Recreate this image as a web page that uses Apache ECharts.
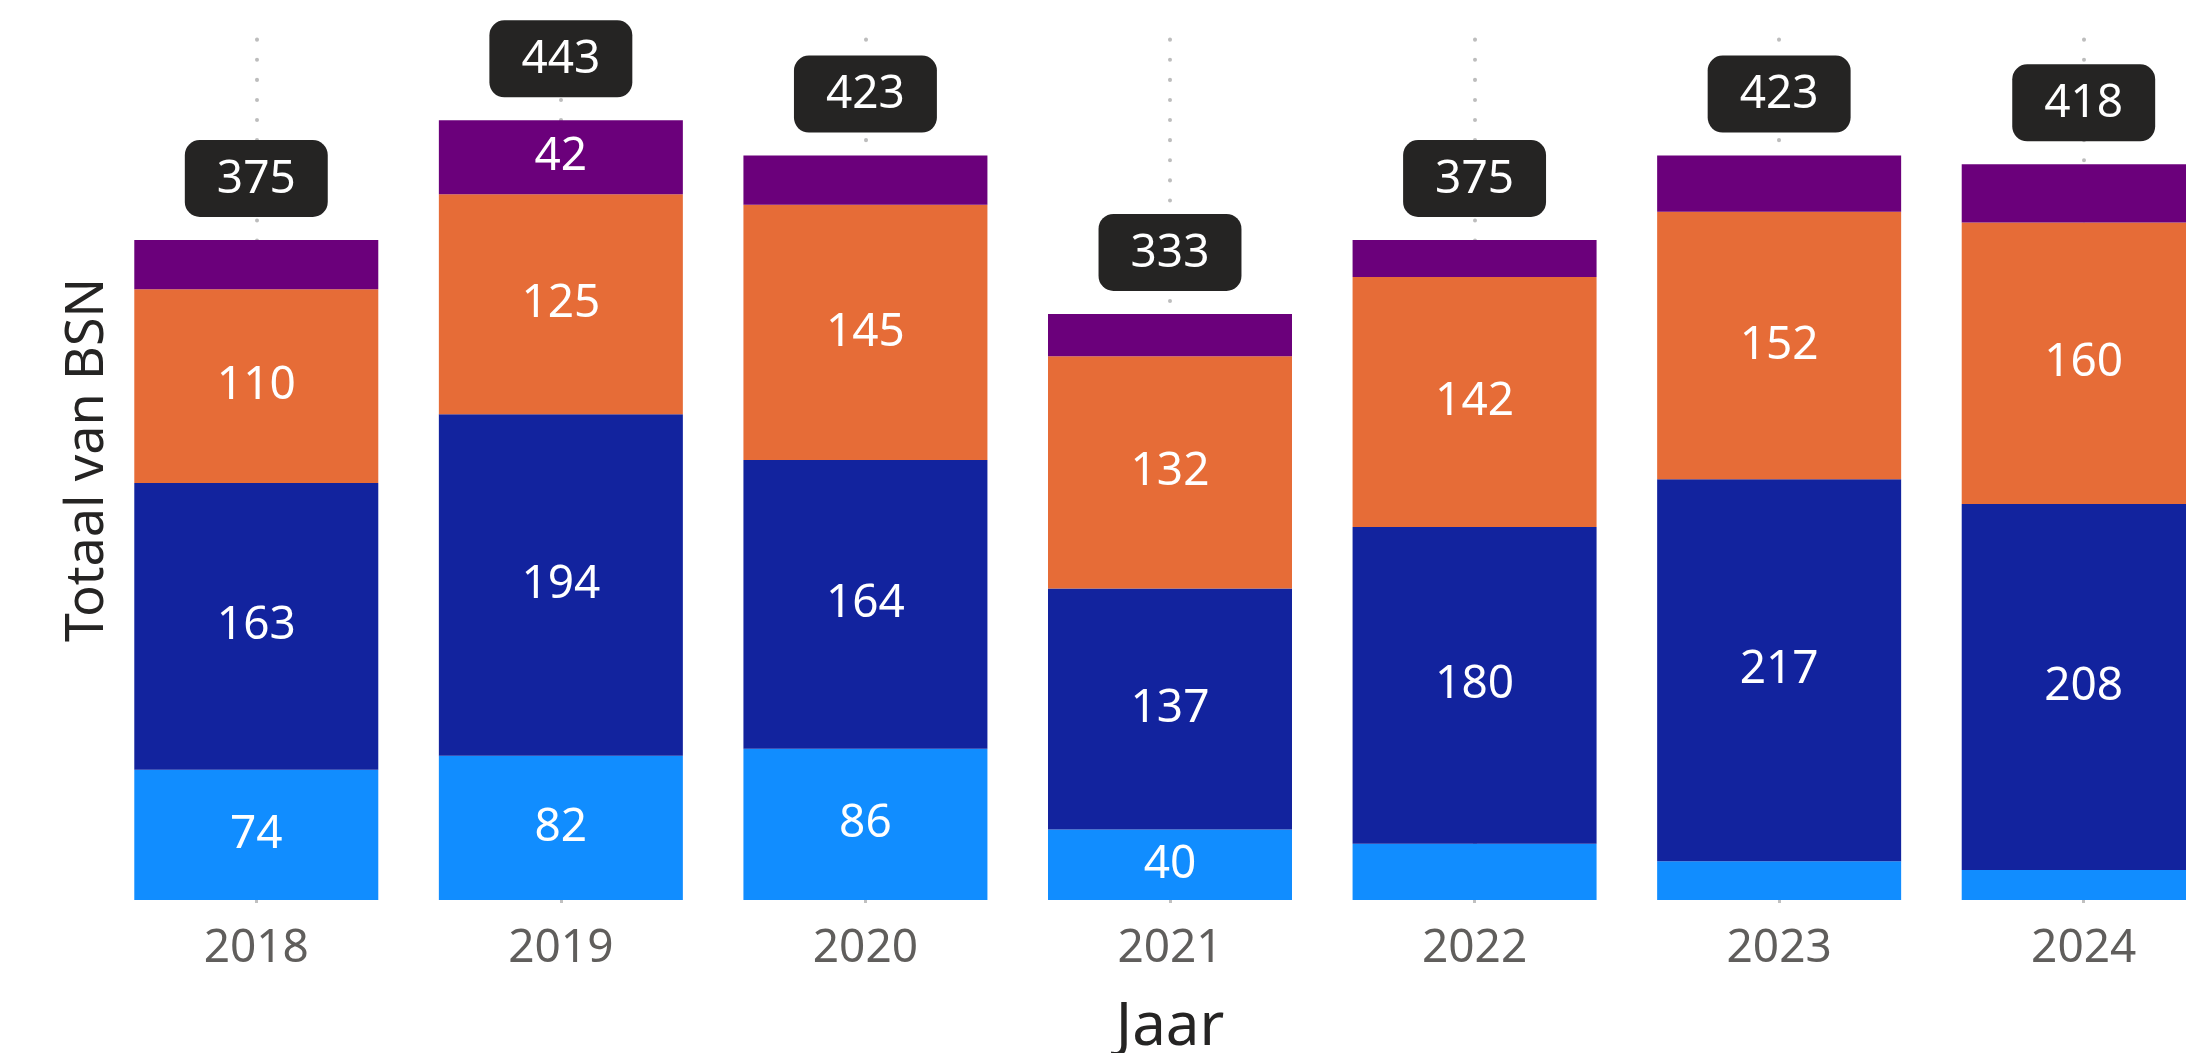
<!DOCTYPE html>
<html>
<head>
<meta charset="utf-8">
<title>Totaal van BSN per jaar</title>
<script src="https://cdn.jsdelivr.net/npm/echarts@6/dist/echarts.min.js"></script>
<style>
  html, body { margin: 0; padding: 0; background: #fff; overflow: hidden; }
  /* de laatste staaf loopt rechts buiten beeld, net als in het origineel */
  #main { width: 2236px; height: 1053px; }
</style>
</head>
<body>
<div id="main"></div>
<script>
// jaren op de x-as
var years = ['2018', '2019', '2020', '2021', '2022', '2023', '2024'];

// segmenten van onder naar boven
var lightBlue = [74, 82, 86, 40, 32, 22, 17];
var darkBlue = [163, 194, 164, 137, 180, 217, 208];
var orange = [110, 125, 145, 132, 142, 152, 160];
var purple = [28, 42, 28, 24, 21, 32, 33];

// totalen boven de staven
var totals = [375, 443, 423, 333, 375, 423, 418];

var colors = ['#118DFF', '#12239E', '#E66C37', '#6B007B'];
var font = '"Noto Sans", "Open Sans", sans-serif';

// labels die niet in een segment passen worden niet getoond
function segLabel(p) {
  return p.value >= 35 ? p.value : '';
}

function stackSeries(name, data, color) {
  return {
    name: name,
    type: 'bar',
    stack: 'totaal',
    data: data,
    barWidth: 244,
    itemStyle: { color: color },
    label: {
      show: true,
      position: 'inside',
      color: '#fff',
      fontSize: 46,
      fontFamily: font,
      formatter: segLabel
    }
  };
}

var chart = echarts.init(document.getElementById('main'));

var option = {
  animation: false,
  grid: { left: 104, right: 0, top: 20, bottom: 153, outerBoundsMode: 'none' },
  xAxis: {
    type: 'category',
    data: years,
    name: 'Jaar',
    nameLocation: 'middle',
    nameGap: 98,
    nameTextStyle: { fontSize: 60, color: '#252423', fontFamily: font },
    axisLine: { show: false },
    axisTick: { show: true, alignWithLabel: true, length: 3, lineStyle: { color: '#c0c0c0', width: 3 } },
    axisLabel: { fontSize: 46, color: '#605E5C', fontFamily: font, margin: 26 }
  },
  yAxis: {
    type: 'value',
    min: 0,
    max: 500,
    name: 'Totaal van BSN',
    nameLocation: 'middle',
    nameGap: -10,
    nameTextStyle: { fontSize: 52, color: '#252423', fontFamily: font },
    axisLine: { show: false },
    axisTick: { show: false },
    axisLabel: { show: false },
    splitLine: { show: false }
  },
  series: [
    stackSeries('a', lightBlue, colors[0]),
    stackSeries('b', darkBlue, colors[1]),
    stackSeries('c', orange, colors[2]),
    stackSeries('d', purple, colors[3]),
    {
      name: 'Totaal',
      type: 'scatter',
      data: totals,
      symbolSize: 0,
      silent: true,
      itemStyle: { opacity: 1 },
      label: {
        show: true,
        position: 'top',
        distance: 23,
        color: '#fff',
        fontSize: 46,
        fontFamily: font,
        lineHeight: 57,
        backgroundColor: '#252423',
        borderRadius: 15,
        padding: [11, 32, 9, 32],
        formatter: function (p) { return p.value; }
      },
      // stippellijnen achter de staven
      markLine: {
        z: 1,
        silent: true,
        symbol: ['none', 'none'],
        label: { show: false },
        lineStyle: { color: '#bdbdbd', width: 4, type: [0.1, 20], cap: 'round', dashOffset: 4 },
        data: years.map(function (y) { return { xAxis: y }; })
      }
    }
  ]
};

chart.setOption(option);
</script>
</body>
</html>
